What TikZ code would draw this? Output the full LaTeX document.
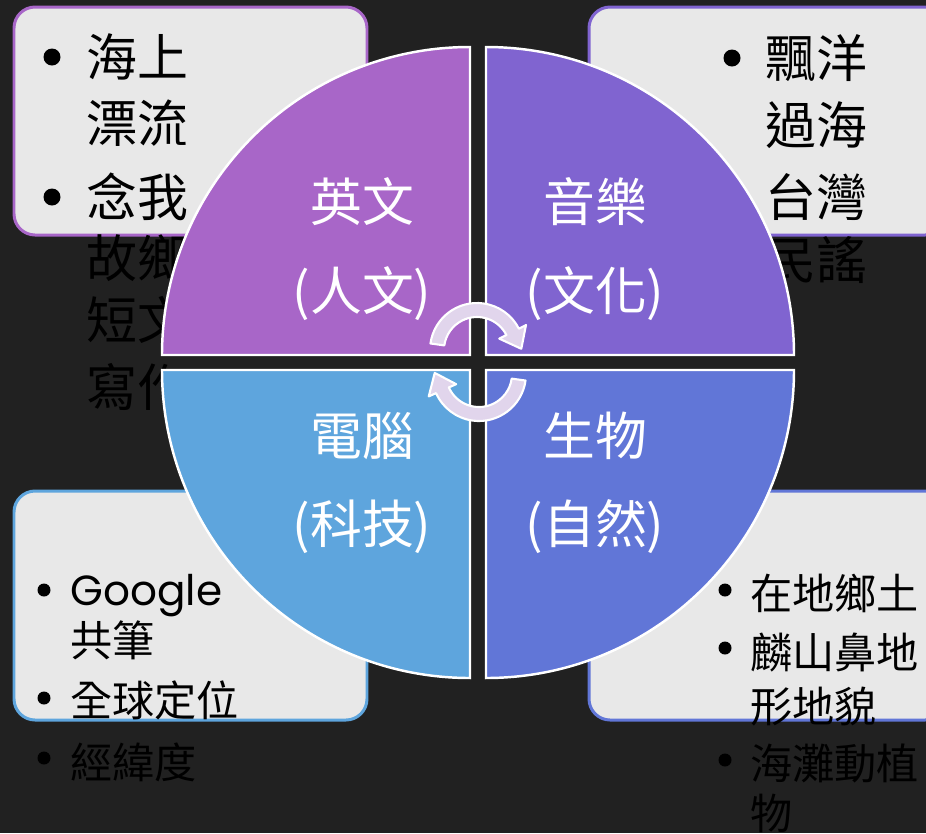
\documentclass[tikz,border=0pt]{standalone}
\usepackage{fontspec}
\setmainfont{Noto Sans CJK TC}
\newfontfamily\gothicfont{Poppins}
\usetikzlibrary{calc}

\definecolor{bgdark}{HTML}{212121}
\definecolor{engpurple}{HTML}{A866C8}
\definecolor{musicviolet}{HTML}{8064D0}
\definecolor{compblue}{HTML}{5EA5DD}
\definecolor{bioblue}{HTML}{6176D7}
\definecolor{boxgrey}{HTML}{E8E8E8}
\definecolor{arrowlav}{HTML}{E1D5EC}

\begin{document}
\begin{tikzpicture}[x=0.02cm, y=-0.02cm,
    infobox/.style={line width=1.7pt, fill=boxgrey, rounded corners=12pt},
    quarter/.style={draw=white, line width=1.4pt},
    bigline/.style={anchor=west, inner sep=0pt, font=\fontsize{29}{35}\selectfont},
    smallline/.style={anchor=west, inner sep=0pt, font=\fontsize{24}{29}\selectfont},
    quadlabel/.style={text=white, inner sep=0pt, font=\fontsize{29.5}{35}\selectfont},
    cyclearrow/.style={fill=arrowlav, draw=white, line width=1.2pt, line join=round}]

    \fill[bgdark] (0,0) rectangle (926,833);
    \useasboundingbox (0,0) rectangle (926,833);

    % corner boxes
    \draw[infobox, draw=engpurple] (14,7) rectangle (367,235);
    \draw[infobox, draw=musicviolet] (589,7) rectangle (946,235);
    \draw[infobox, draw=compblue] (14,491) rectangle (367,720);
    \draw[infobox, draw=bioblue] (589,491) rectangle (946,720);

    % top left text
    \fill (52,57) circle (8.5);
    \fill (52,197) circle (8.5);
    \node[bigline] (tl1) at (86,57) {海上};
    \node[bigline] (tl2) at (86,123) {漂流};
    \node[bigline] (tl3) at (86,197) {念我};
    \node[bigline] (tl4) at (86,258) {故鄉};
    \node[bigline] (tl5) at (86,320) {短文};
    \node[bigline] (tl6) at (86,387) {寫作};

    % top right text
    \fill (732,58) circle (8.5);
    \node[bigline] (tr1) at (765,58) {飄洋};
    \node[bigline] (tr2) at (765,125) {過海};
    \node[bigline] (tr3) at (765,197) {台灣};
    \node[bigline] (tr4) at (765,260) {民謠};

    % bottom left text
    \fill (44,590) circle (6.5);
    \fill (44,698) circle (6.5);
    \fill (44,758) circle (6.5);
    \node[smallline, anchor=base west] (bl1) at (70,605) {\gothicfont Google};
    \node[smallline] (bl2) at (70,640) {共筆};
    \node[smallline] (bl3) at (70,700) {全球定位};
    \node[smallline] (bl4) at (70,762) {經緯度};

    % bottom right text
    \fill (725,590) circle (6.5);
    \fill (725,648) circle (6.5);
    \fill (725,760) circle (6.5);
    \node[smallline] (br1) at (750,593) {在地鄉土};
    \node[smallline] (br2) at (750,653) {麟山鼻地};
    \node[smallline] (br3) at (750,707) {形地貌};
    \node[smallline] (br4) at (750,763) {海灘動植};
    \node[smallline] (br5) at (750,813) {物};

    % the four quarters
    \filldraw[quarter, fill=engpurple] (470,355) -- (162,355) arc[start angle=180, end angle=270, radius=308] -- cycle;
    \filldraw[quarter, fill=musicviolet] (486,355) -- (486,47) arc[start angle=270, end angle=360, radius=308] -- cycle;
    \filldraw[quarter, fill=compblue] (470,370) -- (470,678) arc[start angle=90, end angle=180, radius=308] -- cycle;
    \filldraw[quarter, fill=bioblue] (486,370) -- (794,370) arc[start angle=0, end angle=90, radius=308] -- cycle;

    \node[quadlabel] (eng) at (362,202) {英文};
    \node[quadlabel] (engsub) at (362,294) {(人文)};
    \node[quadlabel] (music) at (595,202) {音樂};
    \node[quadlabel] (musicsub) at (595,294) {(文化)};
    \node[quadlabel] (comp) at (362,436) {電腦};
    \node[quadlabel] (compsub) at (362,527) {(科技)};
    \node[quadlabel] (bio) at (595,436) {生物};
    \node[quadlabel] (biosub) at (595,527) {(自然)};

    % turning arrows in the middle
    \coordinate (c1) at (477,350);
    \coordinate (c2) at (479,374);
    \filldraw[cyclearrow] ($(c1)+(188:47)$) arc[start angle=188, end angle=333, radius=47]
        -- ($(c1)+(333:55)$) -- ($(c1)+(333:40)+(63:19)$) -- ($(c1)+(333:25)$)
        -- ($(c1)+(333:33)$) arc[start angle=333, end angle=188, radius=33] -- cycle;
    \filldraw[cyclearrow] ($(c2)+(8:47)$) arc[start angle=8, end angle=156, radius=47]
        -- ($(c2)+(156:55)$) -- ($(c2)+(156:40)+(246:19)$) -- ($(c2)+(156:25)$)
        -- ($(c2)+(156:33)$) arc[start angle=156, end angle=8, radius=33] -- cycle;
\end{tikzpicture}
\end{document}
